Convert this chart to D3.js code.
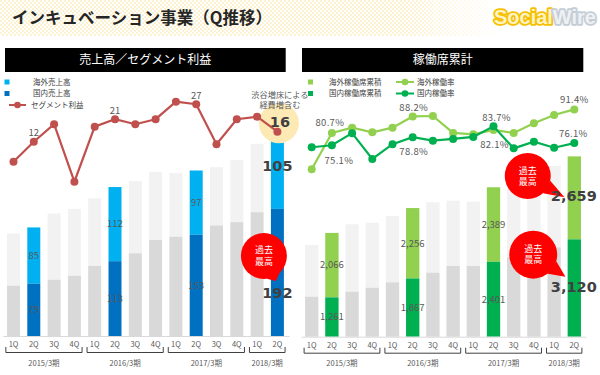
<!DOCTYPE html>
<html>
<head>
<meta charset="utf-8">
<script src="https://cdn.jsdelivr.net/npm/d3@7"></script>
<style>
  body { margin: 0; background: #fff; }
  svg { display: block; font-family: "Noto Sans CJK JP", "Noto Sans", sans-serif; }
</style>
</head>
<body>
<svg id="chart" width="600" height="375"></svg>
<script>
// quarters / fiscal years
const quarters = ['1Q','2Q','3Q','4Q','1Q','2Q','3Q','4Q','1Q','2Q','3Q','4Q','1Q','2Q']
const fiscalYears = ['2015/3期','2016/3期','2017/3期','2018/3期']
const quartersPerYear = [4, 4, 4, 2]
const highlightIdx = [1, 5, 9, 13]   // 2Q bars drawn in colour

// 売上高 / セグメント利益
const salesOverseas = [79, 85, 100, 101, 102, 112, 109, 103, 96, 97, 88, 94, 103, 105]
const salesDomestic = [76, 79, 85, 91, 106, 113, 125, 145, 150, 153, 167, 172, 187, 192]
const segmentProfit = [4, 12, 19, -4, 18, 21, 19, 21, 28, 27, 11, 21, 22, 16]

// 稼働席累計 / 稼働率
const seatsOverseas = [1657, 2066, 2161, 2083, 2125, 2256, 2257, 2093, 2061, 2389, 2200, 2250, 2606, 2659]
const seatsDomestic = [1282, 1261, 1442, 1571, 1744, 1867, 2051, 2266, 2266, 2401, 2550, 2700, 2865, 3120]
const rateOverseas = [64.2, 80.7, 83.1, 81.0, 83.1, 88.2, 88.4, 80.7, 80.1, 82.1, 80.7, 85.1, 88.9, 91.4]
const rateDomestic = [74.2, 75.1, 80.6, 68.9, 75.6, 78.8, 77.2, 78.0, 78.9, 83.7, 73.7, 76.7, 74.0, 76.1]

const svg = d3.select('#chart')
const idx = d3.range(quarters.length)

// ---------- header ----------
let defs = svg.append('defs')
let dots = defs.append('pattern')
  .attr('id', 'dots').attr('width', 4).attr('height', 4)
  .attr('patternUnits', 'userSpaceOnUse')
dots.append('circle').attr('cx', 1).attr('cy', 1).attr('r', 0.7).attr('fill', '#f5cf5a')
dots.append('circle').attr('cx', 3).attr('cy', 3).attr('r', 0.7).attr('fill', '#f5cf5a')
let fade = defs.append('linearGradient').attr('id', 'fade')
fade.append('stop').attr('offset', '0%').attr('stop-color', '#fff').attr('stop-opacity', 1)
fade.append('stop').attr('offset', '80%').attr('stop-color', '#fff').attr('stop-opacity', 1)
fade.append('stop').attr('offset', '100%').attr('stop-color', '#fff').attr('stop-opacity', 0)
let mask = defs.append('mask').attr('id', 'fadeMask')
mask.append('rect').attr('width', 500).attr('height', 36).attr('fill', 'url(#fade)')
svg.append('rect')
  .attr('width', 500).attr('height', 36)
  .attr('fill', 'url(#dots)').attr('opacity', 0.8)
  .attr('mask', 'url(#fadeMask)')

svg.append('text')
  .attr('x', 12).attr('y', 24)
  .attr('font-size', 16.5).attr('font-weight', 'bold').attr('fill', '#262626')
  .text('インキュベーション事業（Q推移）')

// logo
let logo = svg.append('text')
  .attr('x', 494).attr('y', 24)
  .attr('font-family', '"Liberation Sans", Arial, sans-serif')
  .attr('font-size', 19.5).attr('font-weight', 'bold')
  .attr('textLength', 102).attr('lengthAdjust', 'spacingAndGlyphs')
  .style('paint-order', 'stroke').attr('stroke-linejoin', 'round')
logo.append('tspan').attr('fill', '#fff3c4').attr('stroke', '#f5c000').attr('stroke-width', 3.5).text('Social')
logo.append('tspan').attr('fill', '#eef1f4').attr('stroke', '#c5cdd6').attr('stroke-width', 3.5).text('Wire')

// ---------- helpers ----------
function panelTitle(x0, x1, label) {
  svg.append('rect')
    .attr('x', x0).attr('y', 48).attr('width', x1 - x0).attr('height', 24)
    .attr('fill', '#000')
  svg.append('text')
    .attr('x', (x0 + x1) / 2).attr('y', 60).attr('dy', '0.35em')
    .attr('text-anchor', 'middle').attr('font-size', 12).attr('fill', '#fff')
    .text(label)
}

// two-line text as one text element
function twoLines(x, y, lines, gap, size, color) {
  let t = svg.append('text')
    .attr('x', x).attr('y', y)
    .attr('text-anchor', 'middle').attr('font-size', size).attr('fill', color)
  t.append('tspan').attr('x', x).attr('dy', '0.35em').text(lines[0])
  t.append('tspan').attr('x', x).attr('dy', gap).text(lines[1])
  return t
}

function bubble(cx, cy, r, tipX, tipY) {
  let g = svg.append('g')
  let a = Math.atan2(tipY - cy, tipX - cx)
  let p1 = [cx + r * Math.cos(a - 0.32), cy + r * Math.sin(a - 0.32)]
  let p2 = [cx + r * Math.cos(a + 0.32), cy + r * Math.sin(a + 0.32)]
  g.append('path')
    .attr('d', 'M' + p1 + 'L' + [tipX, tipY] + 'L' + p2 + 'Z')
    .attr('fill', '#ff0000')
  g.append('circle').attr('cx', cx).attr('cy', cy).attr('r', r).attr('fill', '#ff0000')
  twoLines(cx, cy - 5.6, ['過去', '最高'], 11.2, 9, '#fff')
}

function xAxisWithYears(x, base) {
  let axis = d3.axisBottom(x).tickSize(0).tickPadding(6).tickFormat(i => quarters[i])
  svg.append('g')
    .attr('transform', 'translate(0,' + base + ')')
    .call(axis)
    .call(g => g.select('.domain').remove())
    .call(g => g.selectAll('text')
      .attr('font-family', '"Noto Sans CJK JP", sans-serif')
      .attr('font-size', 7.5).attr('fill', '#595959'))
  svg.append('line')
    .attr('x1', x.range()[0]).attr('x2', x.range()[1] + 2)
    .attr('y1', base + 0.5).attr('y2', base + 0.5)
    .attr('stroke', '#d9d9d9')
  let start = 0
  fiscalYears.forEach((fy, k) => {
    let n = quartersPerYear[k]
    let x0 = x(start) - x.step() * x.paddingOuter() + 2.5
    let x1 = x(start + n - 1) + x.bandwidth() + x.step() * x.paddingOuter() - 2.5
    svg.append('path')
      .attr('d', 'M' + x0 + ',' + (base + 11) + 'V' + (base + 16.5) + 'H' + x1 + 'V' + (base + 11))
      .attr('fill', 'none').attr('stroke', '#404040').attr('stroke-width', 1)
    svg.append('text')
      .attr('x', (x0 + x1) / 2).attr('y', base + 27)
      .attr('text-anchor', 'middle').attr('dy', '0.35em')
      .attr('font-size', 7.5).attr('fill', '#595959')
      .text(fy)
    start += n
  })
}

function stackedBars(x, y, lower, upper, cLower, cUpper) {
  let g = svg.append('g')
  idx.forEach(i => {
    let hi = highlightIdx.includes(i)
    g.append('rect')
      .attr('x', x(i)).attr('width', x.bandwidth())
      .attr('y', y(lower[i] + upper[i])).attr('height', y(lower[i]) - y(lower[i] + upper[i]))
      .attr('fill', hi ? cUpper : '#f2f2f2')
    g.append('rect')
      .attr('x', x(i)).attr('width', x.bandwidth())
      .attr('y', y(lower[i])).attr('height', y(0) - y(lower[i]))
      .attr('fill', hi ? cLower : '#d9d9d9')
  })
}

function segLabel(x, y, i, v0, v1, txt) {
  svg.append('text')
    .attr('x', x(i) + x.bandwidth() / 2).attr('y', (y(v0) + y(v1)) / 2).attr('dy', '0.35em')
    .attr('text-anchor', 'middle').attr('font-size', 9.5).attr('fill', '#595959')
    .text(txt)
}

function lineSeries(x, y, values, color) {
  let cx = i => x(i) + x.bandwidth() / 2
  let line = d3.line().x(d => cx(d)).y(d => y(values[d]))
  svg.append('path')
    .attr('d', line(idx)).attr('fill', 'none')
    .attr('stroke', color).attr('stroke-width', 2.2)
  svg.append('g').selectAll('circle').data(idx).join('circle')
    .attr('cx', d => cx(d)).attr('cy', d => y(values[d]))
    .attr('r', 4).attr('fill', color)
}

// ---------- left panel: 売上高／セグメント利益 ----------
panelTitle(5, 285.7, '売上高／セグメント利益')

const baseL = 336
const xL = d3.scaleBand().domain(idx).range([3.35, 287.55]).paddingInner(0.36).paddingOuter(0.18)
const yL = d3.scaleLinear().domain([0, 300]).range([baseL, baseL - 300 * 0.662])
const yProfit = d3.scaleLinear().domain([-5, 30]).range([184.2, 96.7])

stackedBars(xL, yL, salesDomestic, salesOverseas, '#0070c0', '#00b0f0')
highlightIdx.slice(0, 3).forEach(i => {
  segLabel(xL, yL, i, salesDomestic[i], salesDomestic[i] + salesOverseas[i], salesOverseas[i])
  segLabel(xL, yL, i, 0, salesDomestic[i], salesDomestic[i])
})
xAxisWithYears(xL, baseL)

// highlight circle behind last profit point
const lastI = idx.length - 1
const cxLast = xL(lastI) + xL.bandwidth() / 2
svg.append('circle')
  .attr('cx', cxLast + 1.5).attr('cy', yProfit(segmentProfit[lastI]) - 8.5).attr('r', 20)
  .attr('fill', '#fde9b3')

lineSeries(xL, yProfit, segmentProfit, '#c0504d')
highlightIdx.slice(0, 3).forEach(i => {
  svg.append('text')
    .attr('x', xL(i) + xL.bandwidth() / 2).attr('y', yProfit(segmentProfit[i]) - 9).attr('dy', '0.35em')
    .attr('text-anchor', 'middle').attr('font-size', 9.5).attr('fill', '#595959')
    .text(segmentProfit[i])
})

// annotation on last quarter
twoLines(cxLast + 2.5, 95, ['渋谷増床による', '経費増含む'], 10, 8.2, '#595959')

const bigLabel = (x, y, txt) => svg.append('text')
  .attr('x', x).attr('y', y).attr('text-anchor', 'middle')
  .attr('font-family', '"DejaVu Sans", sans-serif')
  .attr('font-size', 14.5).attr('font-weight', 'bold').attr('fill', '#404040')
  .text(txt)

bigLabel(cxLast + 2.5, 127, segmentProfit[lastI])
bigLabel(cxLast, yL(salesDomestic[lastI] + salesOverseas[lastI] * 0.55), salesOverseas[lastI])
bigLabel(cxLast, yL(salesDomestic[lastI] * 0.3), salesDomestic[lastI])

bubble(xL(lastI) - 7, yL(121), 23, cxLast - 1.5, yL(83))

// legend left
const legL = svg.append('g').attr('font-size', 7.5).attr('fill', '#404040')
legL.append('rect').attr('x', 4.5).attr('y', 79.5).attr('width', 5).attr('height', 5).attr('fill', '#00b0f0')
legL.append('text').attr('x', 33).attr('y', 82).attr('dy', '0.35em').text('海外売上高')
legL.append('rect').attr('x', 4.5).attr('y', 91).attr('width', 5).attr('height', 5).attr('fill', '#0070c0')
legL.append('text').attr('x', 33).attr('y', 93.5).attr('dy', '0.35em').text('国内売上高')
legL.append('line').attr('x1', 9).attr('x2', 26).attr('y1', 105).attr('y2', 105)
  .attr('stroke', '#c0504d').attr('stroke-width', 2)
legL.append('circle').attr('cx', 17.5).attr('cy', 105).attr('r', 3.3).attr('fill', '#c0504d')
legL.append('text').attr('x', 31).attr('y', 105).attr('dy', '0.35em').text('セグメント利益')

// ---------- right panel: 稼働席累計 ----------
panelTitle(302, 583.3, '稼働席累計')

const baseR = 336.7
const xR = d3.scaleBand().domain(idx).range([301.6, 584.4]).paddingInner(0.34).paddingOuter(0.17)
const yR = d3.scaleLinear().domain([0, 6000]).range([baseR, baseR - 6000 * 0.0312])
const yRate = d3.scaleLinear().domain([60, 95]).range([178.5, 101.5])

stackedBars(xR, yR, seatsDomestic, seatsOverseas, '#00b050', '#92d050')
const fmt = d3.format(',')
highlightIdx.slice(0, 3).forEach(i => {
  segLabel(xR, yR, i, seatsDomestic[i], seatsDomestic[i] + seatsOverseas[i], fmt(seatsOverseas[i]))
  segLabel(xR, yR, i, 0, seatsDomestic[i], fmt(seatsDomestic[i]))
})
xAxisWithYears(xR, baseR)

lineSeries(xR, yRate, rateOverseas, '#92d050')
lineSeries(xR, yRate, rateDomestic, '#00b050')

const rateLabels = [
  { i: 1, s: rateOverseas, dy: -10.5, dx: -2 },
  { i: 1, s: rateDomestic, dy: 15, dx: 7 },
  { i: 5, s: rateOverseas, dy: -9, dx: 1 },
  { i: 5, s: rateDomestic, dy: 14.5, dx: 1 },
  { i: 9, s: rateDomestic, dy: -9, dx: 3 },
  { i: 9, s: rateOverseas, dy: 14.5, dx: 1 },
  { i: 13, s: rateOverseas, dy: -9.5, dx: 0 },
  { i: 13, s: rateDomestic, dy: -9, dx: -1 }
]
rateLabels.forEach(d => {
  svg.append('text')
    .attr('x', xR(d.i) + xR.bandwidth() / 2 + d.dx).attr('y', yRate(d.s[d.i]) + d.dy).attr('dy', '0.35em')
    .attr('text-anchor', 'middle').attr('font-size', 9.5).attr('fill', '#595959')
    .attr('letter-spacing', 0.3)
    .text(d.s[d.i].toFixed(1) + '%')
})

const cxLastR = xR(lastI) + xR.bandwidth() / 2
bubble(xR(lastI - 2) + 0.5, yR(5150), 23, xR(lastI - 1) + 17, yR(4470))
bubble(xR(lastI - 2) + 6, yR(2630), 24, xR(lastI - 1) + 18, yR(1920))
bigLabel(cxLastR - 0.5, 201, fmt(seatsOverseas[lastI]))
bigLabel(cxLastR - 0.5, 291.5, fmt(seatsDomestic[lastI]))

// legend right
const legR = svg.append('g').attr('font-size', 7.5).attr('fill', '#404040')
legR.append('rect').attr('x', 308).attr('y', 79.5).attr('width', 5).attr('height', 5).attr('fill', '#92d050')
legR.append('text').attr('x', 329).attr('y', 82).attr('dy', '0.35em').text('海外稼働席累積')
legR.append('rect').attr('x', 308).attr('y', 91).attr('width', 5).attr('height', 5).attr('fill', '#00b050')
legR.append('text').attr('x', 329).attr('y', 93.5).attr('dy', '0.35em').text('国内稼働席累積')
legR.append('line').attr('x1', 396).attr('x2', 414).attr('y1', 82).attr('y2', 82)
  .attr('stroke', '#92d050').attr('stroke-width', 2)
legR.append('circle').attr('cx', 405).attr('cy', 82).attr('r', 3.3).attr('fill', '#92d050')
legR.append('text').attr('x', 417).attr('y', 82).attr('dy', '0.35em').text('海外稼働率')
legR.append('line').attr('x1', 396).attr('x2', 414).attr('y1', 93.5).attr('y2', 93.5)
  .attr('stroke', '#00b050').attr('stroke-width', 2)
legR.append('circle').attr('cx', 405).attr('cy', 93.5).attr('r', 3.3).attr('fill', '#00b050')
legR.append('text').attr('x', 417).attr('y', 93.5).attr('dy', '0.35em').text('国内稼働率')
</script>
</body>
</html>
